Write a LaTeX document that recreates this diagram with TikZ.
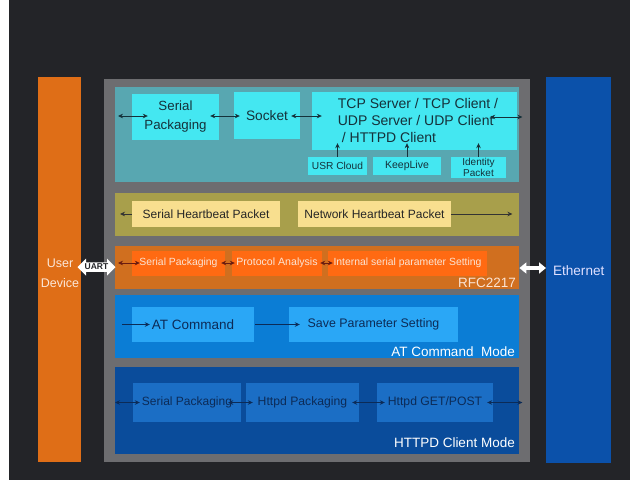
\documentclass[tikz,border=0pt]{standalone}
\usepackage{fontspec}
\setmainfont{Liberation Sans}
\usetikzlibrary{arrows.meta,positioning,calc,shapes.arrows}

\definecolor{bgdark}{HTML}{232428}
\definecolor{panelgray}{HTML}{6D6D70}
\definecolor{userorange}{HTML}{DF6E17}
\definecolor{ethblue}{HTML}{0B51AA}
\definecolor{tealsec}{HTML}{58A7B1}
\definecolor{tealbox}{HTML}{44E7F1}
\definecolor{tealtxt}{HTML}{15313A}
\definecolor{olivesec}{HTML}{A89F4B}
\definecolor{olivebox}{HTML}{F8DF8F}
\definecolor{orsec}{HTML}{D06F1F}
\definecolor{orbox}{HTML}{FF6A12}
\definecolor{ortxt}{HTML}{FBE4D4}
\definecolor{orarrow}{HTML}{6A1C10}
\definecolor{atsec}{HTML}{0B7DD5}
\definecolor{atbox}{HTML}{2AA7F6}
\definecolor{hsec}{HTML}{0A4C9B}
\definecolor{hbox}{HTML}{1B6EC5}
\definecolor{navytxt}{HTML}{0C2B57}

\begin{document}
\begin{tikzpicture}[x=1pt,y=-1pt,>={Stealth[length=5pt,width=4.6pt]},
  sec/.style={anchor=north west,inner sep=0pt},
  box/.style={inner sep=0pt,align=center},
  lnk/.style={<->,line width=0.8pt},
  one/.style={->,line width=0.8pt},
  mode/.style={anchor=base east,inner sep=0pt,text=white,font=\fontsize{13.5}{15}\selectfont},
]

\useasboundingbox (0,0) rectangle (640,480);
\fill[white] (0,0) rectangle (640,480);
\fill[bgdark] (9,0) rectangle (630,480);

% side columns and main panel
\node[sec,fill=userorange,minimum width=43pt,minimum height=385pt] (user) at (38,77) {};
\node[text=ortxt!90!white,align=center,font=\fontsize{12.5}{20}\selectfont] (usertxt) at (60,273) {User\\Device};
\node[sec,fill=ethblue,minimum width=65pt,minimum height=386pt,
  text=white!88!blue,font=\fontsize{13.6}{15}\selectfont] (eth) at (546,77) {Ethernet};
\node[sec,fill=panelgray,minimum width=426pt,minimum height=383pt] (panel) at (104,79) {};

% sections
\node[sec,fill=tealsec,minimum width=404pt,minimum height=95pt] (tsec) at (115,87) {};
\node[sec,fill=olivesec,minimum width=404pt,minimum height=43pt] (olsec) at (115,193) {};
\node[sec,fill=orsec,minimum width=404pt,minimum height=43pt] (osec) at (115,246) {};
\node[sec,fill=atsec,minimum width=404pt,minimum height=63pt] (atsec) at (115,295) {};
\node[sec,fill=hsec,minimum width=404pt,minimum height=87pt] (hsec) at (115,367) {};

% socket section
\coordinate (trow) at (0,116);
\node[box,fill=tealbox,text=tealtxt,minimum width=87pt,minimum height=46pt,
  font=\fontsize{13.3}{19}\selectfont] (tsp) at (175.5,117) {Serial\\Packaging};
\node[box,fill=tealbox,text=tealtxt,minimum width=66pt,minimum height=47pt,
  font=\fontsize{13.7}{15}\selectfont] (sock) at (267,115.5) {Socket};
\node[box,fill=tealbox,minimum width=205pt,minimum height=58pt] (tcp) at (414.5,121) {};
\node[text=tealtxt,align=left,inner sep=0pt,font=\fontsize{14}{17}\selectfont] (tcptxt) at (418,120)
  {TCP Server / TCP Client /\\UDP Server / UDP Client\\\hspace{4pt}/ HTTPD Client};
\node[box,fill=tealbox,text=tealtxt,minimum width=59pt,minimum height=18pt,
  font=\fontsize{10.2}{11}\selectfont] (usr) at (337.5,166) {USR Cloud};
\node[box,fill=tealbox,text=tealtxt,minimum width=68pt,minimum height=18pt,
  font=\fontsize{10.5}{11}\selectfont] (keep) at (407,166) {KeepLive};
\node[box,fill=tealbox,text=tealtxt,minimum width=55pt,minimum height=21pt,
  font=\fontsize{10}{10.5}\selectfont] (ident) at (478.5,167.5) {Identity\\Packet};

\draw[lnk,tealtxt] ([xshift=3pt]tsec.west |- trow) -- ([xshift=16pt]tsp.west |- trow);
\draw[lnk,tealtxt] ([xshift=-9pt]tsp.east |- trow) -- ([xshift=6pt]sock.west |- trow);
\draw[lnk,tealtxt] ([xshift=-9pt]sock.east |- trow) -- ([xshift=10pt]tcp.west |- trow);
\draw[lnk,tealtxt] ([xshift=-27pt,yshift=-1pt]tcp.east |- trow) -- ([xshift=3pt,yshift=-1pt]tsec.east |- trow);
\draw[one,tealtxt] (usr.north) -- ([yshift=7pt]usr.north |- tcp.south);
\draw[one,tealtxt] (keep.north) -- ([yshift=7pt]keep.north |- tcp.south);
\draw[one,tealtxt] (ident.north) -- ([yshift=7pt]ident.north |- tcp.south);

% heartbeat section
\node[box,fill=olivebox,text=black!85,minimum width=148pt,minimum height=26pt,
  font=\fontsize{12}{14}\selectfont] (shb) at (206,214) {Serial Heartbeat Packet};
\node[box,fill=olivebox,text=black!85,minimum width=153pt,minimum height=26pt,
  font=\fontsize{12}{14}\selectfont] (nhb) at (374.5,214) {Network Heartbeat Packet};
\draw[one,black!80] (shb.west) -- ([xshift=5pt]olsec.west |- shb);
\draw[one,black!80] (nhb.east) -- ([xshift=-7pt]olsec.east |- nhb);

% RFC2217 section
\node[box,fill=orbox,text=ortxt,minimum width=93pt,minimum height=25pt,
  font=\fontsize{10.4}{12}\selectfont] (osp) at (178.5,263) {Serial Packaging};
\node[box,fill=orbox,text=ortxt,minimum width=90pt,minimum height=25pt,
  font=\fontsize{10.6}{12}\selectfont] (opa) at (277,263) {Protocol Analysis};
\node[box,fill=orbox,text=ortxt,minimum width=159pt,minimum height=25pt,
  font=\fontsize{10.4}{12}\selectfont] (ois) at (407.5,263) {Internal serial parameter Setting};
\draw[lnk,orarrow] ([xshift=3pt]osec.west |- osp) -- ([xshift=8pt]osp.west);
\draw[lnk,orarrow] ([xshift=-4pt]osp.east) -- ([xshift=3pt]opa.west);
\draw[lnk,orarrow] ([xshift=-2pt]opa.east) -- ([xshift=5pt]ois.west);
\node[mode,text=ortxt] (rfc) at (516,287) {RFC2217};

% UART / Ethernet links
\coordinate (erow) at (0,268);
\node[double arrow,fill=white,inner sep=0pt,minimum height=38pt,minimum width=17pt,
  double arrow head extend=2.5pt,text=bgdark,font=\fontsize{8.5}{9}\bfseries] (uart) at (96.5,267) {UART};
\draw[white,line width=4pt,{Triangle[width=11pt,length=7pt]}-{Triangle[width=11pt,length=7pt]}]
  (osec.east |- erow) -- (eth.west |- erow);

% AT command section
\node[box,fill=atbox,text=navytxt,minimum width=122pt,minimum height=35pt,
  font=\fontsize{13.5}{15}\selectfont] (atc) at (193,324.5) {AT Command};
\node[box,fill=atbox,text=navytxt,minimum width=169pt,minimum height=35pt,
  font=\fontsize{12.4}{14}\selectfont] (sps) at (373.5,324.5) {Save Parameter Setting};
\draw[one,navytxt] ([xshift=7pt]atsec.west |- atc) -- ([xshift=18pt]atc.west);
\draw[one,navytxt] ([xshift=1pt]atc.east) -- ([xshift=11pt]sps.west);
\node[mode] (atmode) at (515,356) {AT Command\ \ Mode};

% HTTPD client section
\node[box,fill=hbox,text=navytxt,minimum width=108pt,minimum height=39pt,
  font=\fontsize{12}{14}\selectfont] (hsp) at (187,402.5) {Serial Packaging};
\node[box,fill=hbox,text=navytxt,minimum width=113pt,minimum height=39pt,
  font=\fontsize{12.2}{14}\selectfont] (hpk) at (302.5,402.5) {Httpd Packaging};
\node[box,fill=hbox,text=navytxt,minimum width=116pt,minimum height=39pt,
  font=\fontsize{12.2}{14}\selectfont] (hgp) at (435,402.5) {Httpd GET/POST};
\draw[lnk,navytxt] (hsec.west |- hsp) -- ([xshift=7pt]hsp.west);
\draw[lnk,navytxt] ([xshift=-13pt]hsp.east) -- ([xshift=7pt]hpk.west);
\draw[lnk,navytxt] ([xshift=-7pt]hpk.east) -- ([xshift=8pt]hgp.west);
\draw[lnk,navytxt] ([xshift=-6pt]hgp.east) -- ([xshift=3pt]hsec.east |- hgp);
\node[mode] (hmode) at (515,447) {HTTPD Client Mode};

\end{tikzpicture}
\end{document}
